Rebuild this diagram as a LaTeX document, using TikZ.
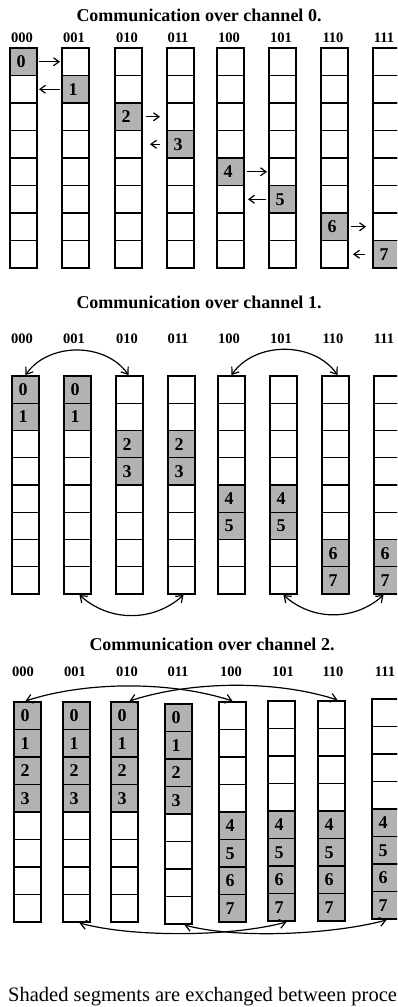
\documentclass[tikz,border=0pt]{standalone}
\usepackage{fontspec}
\setmainfont{Liberation Serif}
\usetikzlibrary{arrows.meta}
\newcommand\cellnum[1]{\hspace*{-5pt}#1}
\begin{document}
\begin{tikzpicture}[x=1pt,y=1pt,
  cell/.style={draw, line width=1.2pt, minimum width=27pt, minimum height=27.5pt,
    inner sep=0pt, outer sep=0pt, anchor=north west,
    font=\bfseries\fontsize{18}{18}\selectfont},
  shcell/.style={cell, fill=black!30},
  ttl/.style={anchor=base, font=\bfseries\fontsize{18}{20}\selectfont},
  lbl/.style={anchor=base, font=\bfseries\fontsize{14.5}{16}\selectfont},
  arr/.style={line width=1.2pt, -{Straight Barb[length=5.5pt,width=8pt]}},
  darr/.style={line width=1.2pt,
    {Straight Barb[length=6pt,width=9pt]}-{Straight Barb[length=6pt,width=9pt]}}]
\useasboundingbox (0,0) rectangle (397,-1007);
\clip (0,0) rectangle (397,-1007);

% ---------------- Panel 1 ----------------
\node[ttl] (t1) at (199,-21) {Communication over channel 0.};
\foreach \l/\x in {000/22,001/74,010/127,011/178,100/229,101/281,110/333,111/384}
  \node[lbl] (la-\l) at (\x,-42) {\l};
\foreach \c/\x in {0/10,1/62,2/115,3/167,4/217,5/269,6/321,7/373}{
  \foreach \r in {0,...,7}{
    \pgfmathsetmacro\yy{-(48+27.5*\r)}
    \pgfmathtruncatemacro\sh{\r==\c ? 1 : 0}
    \ifnum\sh=1
      \node[shcell] (p1-\c-\r) at (\x,\yy) {\cellnum{\r}};
    \else
      \node[cell] (p1-\c-\r) at (\x,\yy) {};
    \fi
  }
}
\draw[arr] ([xshift=2pt]p1-0-0.east) -- ([xshift=-2pt]p1-1-0.west);
\draw[arr] ([xshift=-2pt]p1-1-1.west) -- ([xshift=2pt]p1-0-1.east);
\draw[arr] ([xshift=4pt]p1-2-2.east) -- ([xshift=-7pt]p1-3-2.west);
\draw[arr] ([xshift=-7pt]p1-3-3.west) -- ([xshift=8pt]p1-2-3.east);
\draw[arr] ([xshift=3pt]p1-4-4.east) -- ([xshift=-2pt]p1-5-4.west);
\draw[arr] ([xshift=-3pt]p1-5-5.west) -- ([xshift=4pt]p1-4-5.east);
\draw[arr] ([xshift=3pt]p1-6-6.east) -- ([xshift=-7pt]p1-7-6.west);
\draw[arr] ([xshift=-8pt]p1-7-7.west) -- ([xshift=5pt]p1-6-7.east);

% ---------------- Panel 2 ----------------
\node[ttl] (t2) at (199,-308) {Communication over channel 1.};
\foreach \l/\x in {000/22,001/74,010/127,011/178,100/229,101/281,110/333,111/384}
  \node[lbl] (lb-\l) at (\x,-343) {\l};
\foreach \c/\x in {0/12,1/64,2/116,3/168,4/218,5/270,6/322,7/374}{
  \foreach \r in {0,...,7}{
    \pgfmathsetmacro\yy{-(376+27.25*\r)}
    \pgfmathtruncatemacro\sh{int(\r/2)==int(\c/2) ? 1 : 0}
    \ifnum\sh=1
      \node[shcell,minimum height=27.25pt] (p2-\c-\r) at (\x,\yy) {\cellnum{\r}};
    \else
      \node[cell,minimum height=27.25pt] (p2-\c-\r) at (\x,\yy) {};
    \fi
  }
}
\draw[darr] ([yshift=1pt]p2-0-0.north) to[out=55,in=125] ([yshift=1pt,xshift=-1pt]p2-2-0.north);
\draw[darr] ([yshift=1pt]p2-4-0.north) to[out=55,in=125] ([yshift=1pt,xshift=2pt]p2-6-0.north);
\draw[darr] ([yshift=-1pt,xshift=2pt]p2-1-7.south) to[out=-42,in=-138] ([yshift=-1pt,xshift=2pt]p2-3-7.south);
\draw[darr] ([yshift=-1pt]p2-5-7.south) to[out=-42,in=-138] ([yshift=-1pt,xshift=-4pt]p2-7-7.south);

% ---------------- Panel 3 ----------------
\node[ttl] (t3) at (212,-650) {Communication over channel 2.};
\foreach \l/\x in {000/23,001/75,010/127,011/178,100/231,101/283,110/333,111/385}
  \node[lbl] (lc-\l) at (\x,-676) {\l};
\foreach \c/\x/\t in {0/14/702,1/63/702,2/111/702,3/165/704,4/219/702,5/268/701,6/318/701,7/372/699}{
  \foreach \r in {0,...,7}{
    \pgfmathsetmacro\yy{-(\t+27.5*\r)}
    \pgfmathtruncatemacro\sh{int(\r/4)==int(\c/4) ? 1 : 0}
    \ifnum\sh=1
      \node[shcell] (p3-\c-\r) at (\x,\yy) {\cellnum{\r}};
    \else
      \node[cell] (p3-\c-\r) at (\x,\yy) {};
    \fi
  }
}
\draw[darr] ([yshift=1pt,xshift=-2pt]p3-0-0.north) to[out=18,in=162,looseness=0.8] ([yshift=1pt]p3-4-0.north);
\draw[darr] ([yshift=1pt,xshift=5pt]p3-2-0.north) to[out=18,in=162,looseness=0.8] ([yshift=1pt,xshift=6pt]p3-6-0.north);
\draw[darr] ([yshift=-1pt,xshift=3pt]p3-1-7.south) to[out=-15,in=-165,looseness=0.7] ([yshift=-1pt,xshift=5pt]p3-5-7.south);
\draw[darr] ([yshift=-1pt,xshift=6pt]p3-3-7.south) to[out=-15,in=-165,looseness=0.7] ([yshift=-1pt,xshift=1pt]p3-7-7.south);

% ---------------- Caption ----------------
\node[anchor=base west, inner sep=0pt, font=\fontsize{20.5}{24}\selectfont] (cap) at (8,-1001)
  {Shaded segments are exchanged between proce};
\end{tikzpicture}
\end{document}
